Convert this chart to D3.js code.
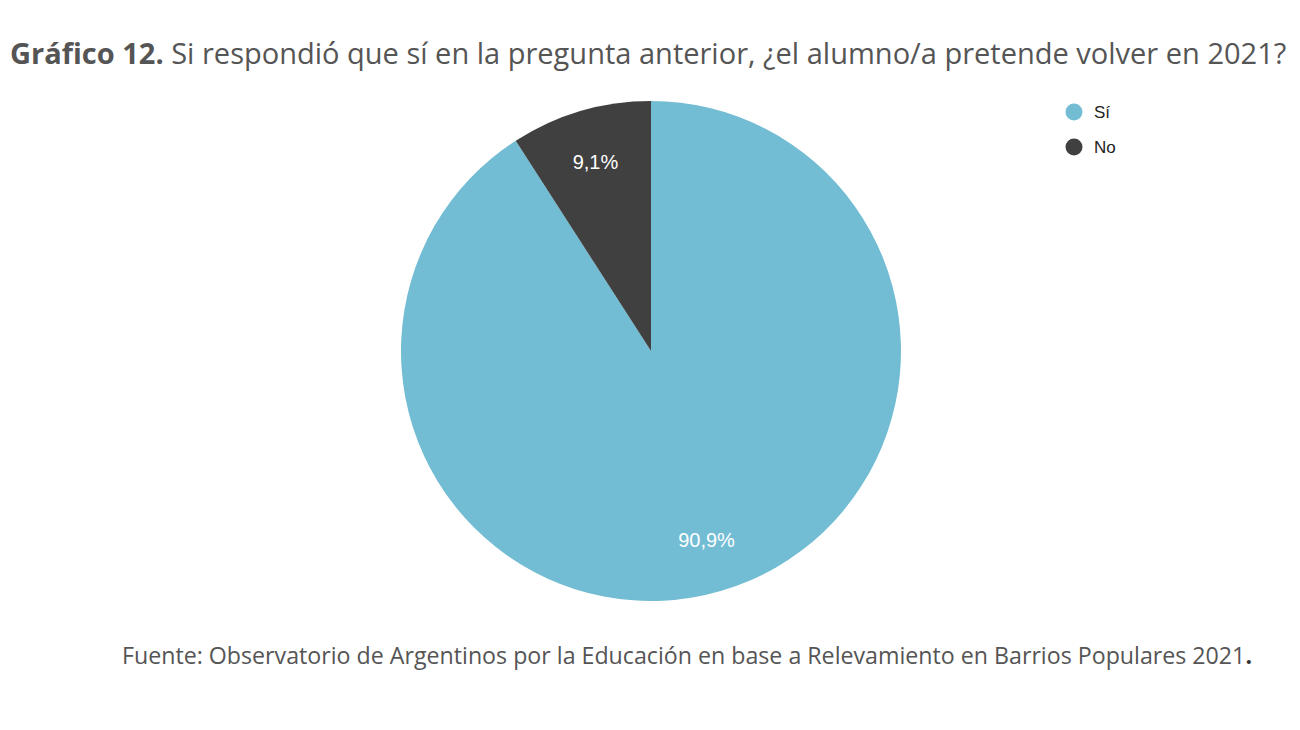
<!DOCTYPE html>
<html><head><meta charset="utf-8">
<script src="https://cdn.jsdelivr.net/npm/d3@7"></script>
<style>body{margin:0;background:#fff}svg{display:block}</style>
</head><body>
<svg id="c" width="1300" height="730"></svg>
<script>
const categories = ["Sí", "No"];
const values = [90.9, 9.1];
const labels = ["90,9%", "9,1%"];
const colors = ["#72BCD4", "#404040"];

const svg = d3.select("#c");

function fitText(sel, target) {
  const w = sel.node().getComputedTextLength();
  const fs = parseFloat(sel.attr("font-size"));
  sel.attr("font-size", fs * target / w);
}

// Title
const title = svg.append("text").attr("x", 10).attr("y", 64)
  .attr("font-family", "'Open Sans', Lato, sans-serif").attr("font-size", 26).attr("fill", "#555");
title.append("tspan").attr("font-weight", 700).text("Gráfico 12.");
title.append("tspan").text(" Si respondió que sí en la pregunta anterior, ¿el alumno/a pretende volver en 2021?");
fitText(title, 1277);

// Pie
const cx = 651, cy = 351, R = 250;
const pie = d3.pie().sort(null).value(d => d.v);
const data = pie(categories.map((c, i) => ({c, v: values[i], l: labels[i], col: colors[i]})));
const arc = d3.arc().innerRadius(0).outerRadius(R);
const labelArc = d3.arc().innerRadius(197).outerRadius(197);
const g = svg.append("g").attr("transform", `translate(${cx},${cy})`);
g.selectAll("path").data(data).join("path").attr("d", arc).attr("fill", d => d.data.col);
g.selectAll("text").data(data).join("text")
  .attr("transform", d => `translate(${labelArc.centroid(d)})`)
  .attr("text-anchor", "middle").attr("dy", "0.36em")
  .attr("font-family", "'Liberation Sans', Arial, sans-serif").attr("font-size", 20)
  .attr("fill", "#fff").text(d => d.data.l);

// Legend
const leg = svg.append("g").attr("transform", "translate(1074,112)");
const li = leg.selectAll("g").data(categories).join("g").attr("transform", (d, i) => `translate(0,${i * 35})`);
li.append("circle").attr("r", 8.5).attr("fill", (d, i) => colors[i]);
li.append("text").attr("x", 20).attr("dy", "0.36em")
  .attr("font-family", "'Liberation Sans', Arial, sans-serif").attr("font-size", 17).attr("fill", "#222").text(d => d);

// Source
const src = svg.append("text").attr("x", 122).attr("y", 664)
  .attr("font-family", "'Open Sans', Lato, sans-serif").attr("font-size", 20).attr("fill", "#555");
src.append("tspan").text("Fuente: Observatorio de Argentinos por la Educación en base a Relevamiento en Barrios Populares 2021");
src.append("tspan").attr("font-weight", 700).attr("fill", "#333").text(".");
fitText(src, 1131);
</script>
</body></html>
